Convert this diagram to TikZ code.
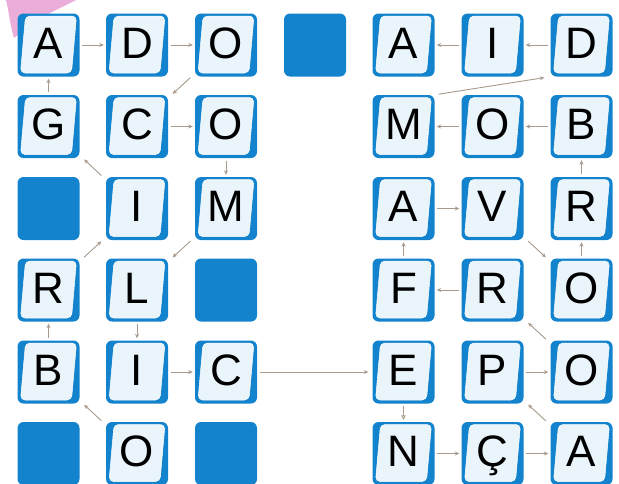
\documentclass[tikz,border=0pt]{standalone}
\usepackage{fontspec}
\setmainfont{Liberation Sans}
\usetikzlibrary{arrows.meta}
\definecolor{tileblue}{HTML}{1283CC}
\definecolor{tileface}{HTML}{E9F4FB}
\definecolor{arrowc}{HTML}{A89A8C}
\definecolor{pinkc}{HTML}{EBAEDB}
\begin{document}
\begin{tikzpicture}[x=1pt,y=-1pt,
  tile/.style={rectangle, rounded corners=6pt, fill=tileblue, minimum width=62pt, minimum height=63pt,
    inner sep=0pt, text=black, font=\fontsize{44}{44}\selectfont, text height=31pt, text depth=5pt,
    path picture={\fill[tileface, draw=white, line width=0.5pt, rounded corners=4.5pt]
      ([shift={(-23pt,29pt)}]path picture bounding box.center) --
      ([shift={(28pt,29pt)}]path picture bounding box.center) --
      ([shift={(23pt,-28pt)}]path picture bounding box.center) --
      ([shift={(-28pt,-28pt)}]path picture bounding box.center) -- cycle;}},
  block/.style={rectangle, rounded corners=6pt, fill=tileblue, minimum width=62pt, minimum height=63pt, inner sep=0pt},
  conn/.style={draw=arrowc, line width=0.9pt, -{Stealth[length=4.5pt,width=4pt]}, shorten >=2pt, shorten <=2.5pt},
  diag/.style={conn, shorten >=6pt, shorten <=6pt},
  openconn/.style={conn, -{Triangle[open,length=4.5pt,width=4.5pt]}}
]
\fill[white] (0,0) rectangle (619,483);
\useasboundingbox (0,0) rectangle (619,483);
% pink blob
\fill[pinkc] (6,0) -- (76,0) -- (40,18) -- (14,38) .. controls (10,25) and (9,12) .. (6,0) -- cycle;

% left grid
\node[tile] (L11) at (48.5,45) {A};
\node[tile] (L12) at (137,45) {D};
\node[tile] (L13) at (226,45) {O};
\node[tile] (L21) at (48.5,126.5) {G};
\node[tile] (L22) at (137,126.5) {C};
\node[tile] (L23) at (226,126.5) {O};
\node[block] (L31) at (48.5,208.5) {};
\node[tile] (L32) at (137,208.5) {I};
\node[tile] (L33) at (226,208.5) {M};
\node[tile] (L41) at (48.5,290) {R};
\node[tile] (L42) at (137,290) {L};
\node[block] (L43) at (226,290) {};
\node[tile] (L51) at (48.5,372) {B};
\node[tile] (L52) at (137,372) {I};
\node[tile] (L53) at (226,372) {C};
\node[block] (L61) at (48.5,453.5) {};
\node[tile] (L62) at (137,453.5) {O};
\node[block] (L63) at (226,453.5) {};

\node[block] (T) at (315,45) {};

% right grid
\node[tile] (R11) at (403.5,45) {A};
\node[tile] (R12) at (492.5,45) {I};
\node[tile] (R13) at (581.5,45) {D};
\node[tile] (R21) at (403.5,126.5) {M};
\node[tile] (R22) at (492.5,126.5) {O};
\node[tile] (R23) at (581.5,126.5) {B};
\node[tile] (R31) at (403.5,208.5) {A};
\node[tile] (R32) at (492.5,208.5) {V};
\node[tile] (R33) at (581.5,208.5) {R};
\node[tile] (R41) at (403.5,290) {F};
\node[tile] (R42) at (492.5,290) {R};
\node[tile] (R43) at (581.5,290) {O};
\node[tile] (R51) at (403.5,372) {E};
\node[tile] (R52) at (492.5,372) {P};
\node[tile] (R53) at (581.5,372) {O};
\node[tile] (R61) at (403.5,453.5) {N};
\node[tile] (R62) at (492.5,453.5) {Ç};
\node[tile] (R63) at (581.5,453.5) {A};

% left connectors
\draw[diag] (L62) -- (L51);
\draw[conn] (L51) -- (L41);
\draw[diag] (L41) -- (L32);
\draw[diag] (L32) -- (L21);
\draw[conn] (L21) -- (L11);
\draw[conn] (L11) -- (L12);
\draw[conn] (L12) -- (L13);
\draw[diag] (L13) -- (L22);
\draw[conn] (L22) -- (L23);
\draw[conn] (L23) -- (L33);
\draw[diag] (L33) -- (L42);
\draw[conn] (L42) -- (L52);
\draw[conn] (L52) -- (L53);
\draw[conn, shorten <=3pt, shorten >=4pt] (L53) -- (R51);

% right connectors
\draw[openconn] (R51) -- (R61);
\draw[conn] (R61) -- (R62);
\draw[conn] (R62) -- (R63);
\draw[diag] (R63) -- (R52);
\draw[conn] (R52) -- (R53);
\draw[diag] (R53) -- (R42);
\draw[conn] (R42) -- (R41);
\draw[conn] (R41) -- (R31);
\draw[conn] (R31) -- (R32);
\draw[diag] (R32) -- (R43);
\draw[conn] (R43) -- (R33);
\draw[conn] (R33) -- (R23);
\draw[conn] (R23) -- (R22);
\draw[conn] (R22) -- (R21);
\draw[conn, shorten <=4pt, shorten >=6pt] (R21.north east) -- (R13.south west);
\draw[conn] (R13) -- (R12);
\draw[conn] (R12) -- (R11);
\end{tikzpicture}
\end{document}
